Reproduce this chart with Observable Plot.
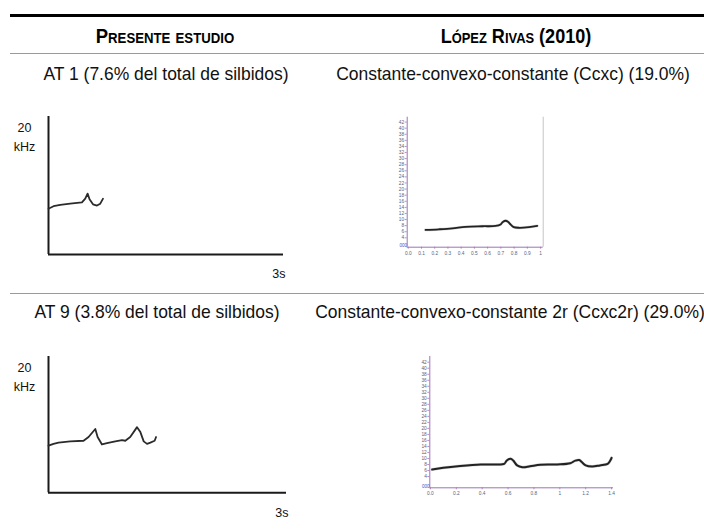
<!DOCTYPE html>
<html>
<head>
<meta charset="utf-8">
<script src="https://cdn.jsdelivr.net/npm/d3@7"></script>
<script src="https://cdn.jsdelivr.net/npm/@observablehq/plot@0.6"></script>
<style>
  body { margin: 0; background: #fff; }
  #fig { position: relative; width: 704px; height: 529px; overflow: hidden; background: #fff;
         font-family: 'Liberation Sans', Arial, sans-serif; }
  .t { position: absolute; white-space: nowrap; text-align: center; color: #111; transform-origin: center; }
  .rule { position: absolute; }
</style>
</head>
<body>
<div id="fig"></div>
<script>
// ---------- data ----------
const headers = ["Presente estudio", "López Rivas (2010)"];
const titles = [
  "AT 1 (7.6% del total de silbidos)",
  "Constante-convexo-constante (Ccxc) (19.0%)",
  "AT 9 (3.8% del total de silbidos)",
  "Constante-convexo-constante 2r (Ccxc2r) (29.0%)"
];
const sketchYTicks = [20];
const sketchYUnit = "kHz";
const sketchXTicks = [3];
const sketchXUnit = "s";

// AT 1 sketch (time s, frequency kHz)
const at1Time = [0, 0.064, 0.15, 0.277, 0.427, 0.469, 0.499, 0.524, 0.568, 0.619, 0.661, 0.696];
const at1Freq = [7.3, 7.7, 7.9, 8.1, 8.3, 8.9, 9.7, 8.8, 8.0, 7.8, 8.1, 8.9];
// AT 9 sketch
const at9Time = [0, 0.063, 0.126, 0.274, 0.442, 0.505, 0.59, 0.619, 0.674, 0.737, 0.842, 0.927, 0.968, 1.03, 1.116, 1.158, 1.2, 1.242, 1.284, 1.338, 1.356];
const at9Freq = [7.6, 7.9, 8.1, 8.3, 8.4, 9.0, 10.3, 9.0, 7.8, 8.0, 8.3, 8.5, 8.4, 9.0, 10.6, 9.8, 8.3, 7.9, 8.1, 8.4, 9.0];
// Ccxc spectrogram contour
const ccxcTime = [0.131, 0.231, 0.333, 0.433, 0.559, 0.66, 0.698, 0.715, 0.735, 0.756, 0.773, 0.798, 0.836, 0.912, 0.975];
const ccxcFreq = [6.6, 6.8, 7.1, 7.6, 7.8, 7.9, 8.4, 9.2, 9.6, 9.2, 8.4, 7.5, 7.3, 7.5, 7.9];
// Ccxc2r spectrogram contour
const ccxc2rTime = [0.013, 0.10, 0.23, 0.39, 0.52, 0.57, 0.59, 0.62, 0.64, 0.67, 0.71, 0.77, 0.85, 0.98, 1.08, 1.12, 1.15, 1.17, 1.20, 1.25, 1.31, 1.37, 1.39, 1.40];
const ccxc2rFreq = [6.3, 6.9, 7.5, 8.0, 8.0, 8.2, 9.3, 9.9, 9.3, 7.7, 7.1, 7.4, 7.9, 8.0, 8.4, 9.3, 9.5, 8.8, 7.7, 7.3, 7.7, 8.2, 9.3, 10.2];

const specYTicks = d3.range(4, 43, 2);
const ccxcXTicks = d3.range(0, 11).map(d => d / 10);
const ccxc2rXTicks = [0, 0.2, 0.4, 0.6, 0.8, 1, 1.2, 1.4];
const specOrigin = "000";

// ---------- helpers ----------
const fig = document.getElementById("fig");
const FONT = "'Liberation Sans', Arial, sans-serif";

function addText(txt, cx, baseline, fs, sx, extra = {}) {
  const d = document.createElement("div");
  d.className = "t";
  d.textContent = txt;
  Object.assign(d.style, {
    left: (cx - 300) + "px", width: "600px",
    top: (baseline - 0.8465 * fs) + "px",
    fontSize: fs + "px", lineHeight: fs + "px",
    transform: `scaleX(${sx})`
  }, extra);
  fig.append(d);
}
function addRule(top, h, color) {
  const d = document.createElement("div");
  d.className = "rule";
  Object.assign(d.style, {left: "10px", width: "694px", top: top + "px", height: h + "px", background: color});
  fig.append(d);
}
function place(svg, left, top) {
  Object.assign(svg.style, {position: "absolute", left: left + "px", top: top + "px"});
  fig.append(svg);
}
const pts = (t, f) => t.map((v, i) => ({t: v, f: f[i]}));

// ---------- table frame ----------
addRule(13.5, 3, "#000");
addRule(52.6, 1.5, "#9a9a9a");
addRule(292.6, 1.5, "#9a9a9a");

addText(headers[0], 165, 42.6, 21, 0.88, {fontVariant: "small-caps", fontWeight: "bold", color: "#000"});
addText(headers[1], 516, 42.6, 21, 0.86, {fontVariant: "small-caps", fontWeight: "bold", color: "#000"});
addText(titles[0], 165.5, 80, 19, 0.92);
addText(titles[1], 512.5, 80, 19, 0.92);
addText(titles[2], 157, 318.3, 19, 0.92);
addText(titles[3], 510, 318.3, 19, 0.92);

// ---------- sketch panels (left) ----------
function sketch(time, freq, opts) {
  return Plot.plot({
    width: 300, height: 190,
    marginLeft: 48, marginRight: opts.mr, marginTop: opts.mt, marginBottom: opts.mb,
    style: {fontFamily: FONT, background: "transparent", overflow: "visible", color: "#111"},
    x: {domain: [0, 3], axis: null},
    y: {domain: [0, 22], axis: null},
    marks: [
      Plot.ruleX([0], {stroke: "#1a1a1a", strokeWidth: 2}),
      Plot.ruleY([0], {stroke: "#1a1a1a", strokeWidth: 2}),
      Plot.axisY({ticks: sketchYTicks, label: null, tickSize: 0, tickPadding: 24, textAnchor: "middle", fontSize: 12.5, dy: -1}),
      Plot.text(sketchYTicks, {y: d => d, text: () => sketchYUnit, frameAnchor: "left", dx: -24, dy: 18, fontSize: 12.5, textAnchor: "middle"}),
      Plot.axisX({ticks: sketchXTicks, label: null, tickSize: 0, tickPadding: 15, textAnchor: "end", dx: 2, fontSize: 12.5, tickFormat: d => d + sketchXUnit}),
      Plot.line(pts(time, freq), {x: "t", y: "f", stroke: "#2b2b2b", strokeWidth: 1.8, strokeLinejoin: "round", curve: "linear"})
    ]
  });
}
place(sketch(at1Time, at1Freq, {mr: 17, mt: 16, mb: 36}), 0, 100);
place(sketch(at9Time, at9Freq, {mr: 14, mt: 16, mb: 37.7}), 0, 340);

// ---------- spectrogram panels (right) ----------
function spectro(time, freq, opts) {
  const [x0, x1] = opts.xd, [y0, y1] = opts.yd;
  return Plot.plot({
    width: opts.w, height: 165,
    marginLeft: opts.ml, marginRight: opts.mr, marginTop: opts.mt, marginBottom: opts.mb,
    style: {fontFamily: FONT, background: "transparent", overflow: "visible"},
    x: {domain: opts.xd, axis: null},
    y: {domain: opts.yd, axis: null},
    marks: [
      opts.border ? Plot.ruleX([x1], {stroke: "#c4c4c4", strokeWidth: 1}) : null,
      Plot.axisY({ticks: specYTicks, label: null, tickSize: 2, tickPadding: 1, fontSize: 4.8, stroke: "#c58ac5", fill: "#58627a", tickFormat: d => String(d)}),
      Plot.axisX({ticks: opts.xt, label: null, tickSize: 2, tickPadding: 2, fontSize: 4.8, stroke: "#c58ac5", fill: "#58627a", tickFormat: d => d === 1 ? "1" : d.toFixed(1)}),
      Plot.ruleX([x0], {stroke: "#9c74b8", strokeWidth: 1}),
      Plot.ruleY([y0], {stroke: "#9c74b8", strokeWidth: 1}),
      Plot.text([specOrigin], {frameAnchor: "bottom-left", dx: -4, dy: 0, fill: "#3a55c8", fontSize: 4.5, textAnchor: "middle"}),
      Plot.line(pts(time, freq), {x: "t", y: "f", stroke: "#9a9a9a", strokeWidth: opts.sw + 1, strokeOpacity: 0.4, strokeLinejoin: "round", curve: "catmull-rom"}),
      Plot.line(pts(time, freq), {x: "t", y: "f", stroke: "#222", strokeWidth: opts.sw, strokeLinejoin: "round", curve: "catmull-rom"})
    ]
  });
}
place(spectro(ccxcTime, ccxcFreq, {w: 180, ml: 26.7, mr: 17.3, mt: 16.7, mb: 18.3, xd: [-0.008, 1.02], yd: [0.92, 43.6], xt: ccxcXTicks, border: true, sw: 1.8}), 380, 100);
place(spectro(ccxc2rTime, ccxc2rFreq, {w: 230, ml: 29.3, mr: 17, mt: 16, mb: 17.7, xd: [-0.005, 1.415], yd: [0.25, 43.9], xt: ccxc2rXTicks, border: false, sw: 2}), 400, 340);
</script>
</body>
</html>
